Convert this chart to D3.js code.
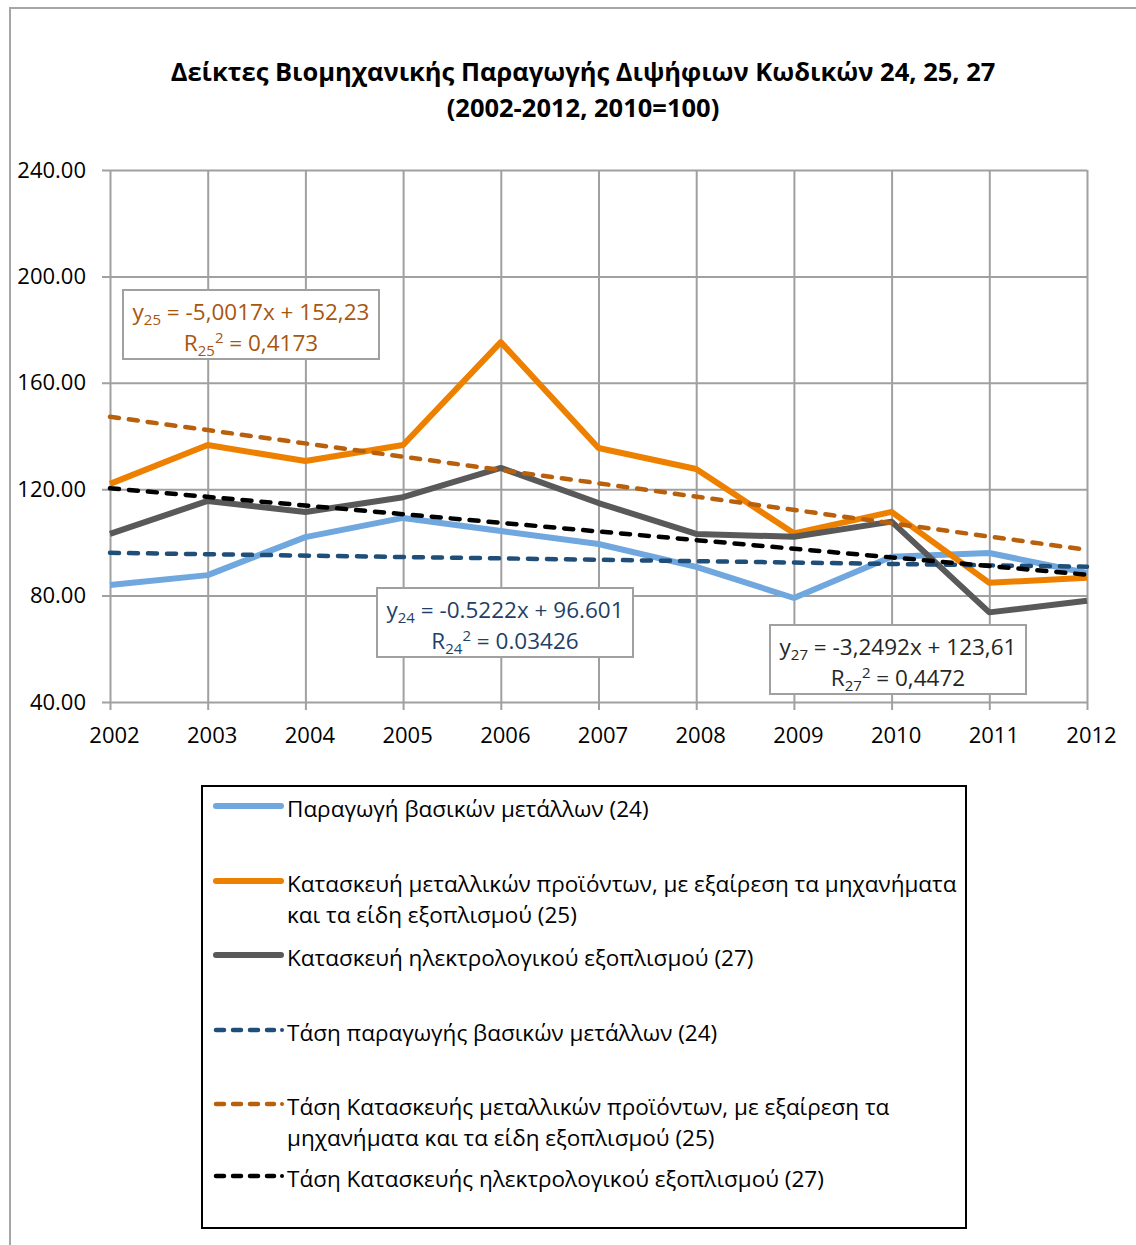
<!DOCTYPE html>
<html>
<head>
<meta charset="utf-8">
<script src="https://cdn.jsdelivr.net/npm/d3@7"></script>
<style>
  body { margin: 0; background: #fff; }
  svg { display: block; font-family: "Open Sans", sans-serif; }
</style>
</head>
<body>
<div id="chart"></div>
<script>
// data
var years = [2002, 2003, 2004, 2005, 2006, 2007, 2008, 2009, 2010, 2011, 2012];
var basicMetals = [84.0, 87.7, 102.0, 109.2, 104.3, 99.4, 90.8, 79.1, 94.6, 96.0, 88.5];
var metalProducts = [122.0, 136.6, 130.6, 136.6, 175.3, 135.5, 127.6, 103.4, 111.5, 84.8, 86.7];
var electrical = [103.2, 115.6, 111.4, 117.0, 128.0, 114.8, 103.2, 102.1, 107.8, 73.7, 78.1];
// trend lines: values at 2002 and 2012
var trendYears = [2002, 2012];
var trend24 = [96.08, 90.86];
var trend25 = [147.23, 97.21];
var trend27 = [120.36, 87.87];
var yTicks = [40, 80, 120, 160, 200, 240];

var legendLabels = [
  ["Παραγωγή βασικών μετάλλων (24)"],
  ["Κατασκευή μεταλλικών προϊόντων, με εξαίρεση τα μηχανήματα", "και τα είδη εξοπλισμού (25)"],
  ["Κατασκευή ηλεκτρολογικού εξοπλισμού (27)"],
  ["Τάση παραγωγής βασικών μετάλλων (24)"],
  ["Τάση Κατασκευής μεταλλικών προϊόντων, με εξαίρεση τα", "μηχανήματα και τα είδη εξοπλισμού (25)"],
  ["Τάση Κατασκευής ηλεκτρολογικού εξοπλισμού (27)"]
];

var W = 1136, H = 1245;
var plotL = 110, plotR = 1087, plotT = 170, plotB = 702;

var svg = d3.select("#chart").append("svg")
  .attr("width", W)
  .attr("height", H);

// outer chart frame
svg.append("path")
  .attr("d", "M10," + H + "V8H" + (W + 5))
  .attr("fill", "none")
  .attr("stroke", "#a6a6a6")
  .attr("stroke-width", 2);

// title
var title = svg.append("text")
  .attr("text-anchor", "middle")
  .style("font-size", "25.5px")
  .style("font-weight", "bold")
  .attr("fill", "#000");
title.append("tspan").attr("x", 583).attr("y", 81)
  .text("Δείκτες Βιομηχανικής Παραγωγής Διψήφιων Κωδικών 24, 25, 27");
title.append("tspan").attr("x", 583).attr("y", 117)
  .text("(2002-2012, 2010=100)");

var x = d3.scaleLinear().domain([2002, 2012]).range([plotL, plotR]);
var y = d3.scaleLinear().domain([40, 240]).range([plotB, plotT]);

// y axis + horizontal grid
var yAxis = svg.append("g")
  .attr("transform", "translate(" + (plotL - 8) + ",0)")
  .call(d3.axisLeft(y).tickValues(yTicks).tickFormat(d3.format(".2f"))
    .tickSize(-(plotR - plotL + 8)).tickPadding(16));

// x axis + vertical grid
var xAxis = svg.append("g")
  .attr("transform", "translate(0," + (plotB + 8) + ")")
  .call(d3.axisBottom(x).tickValues(years).tickFormat(d3.format("d"))
    .tickSize(-(plotB + 8 - plotT)).tickPadding(17));

[yAxis, xAxis].forEach(function(g) {
  g.select(".domain").remove();
  g.selectAll(".tick line").attr("stroke", "#a0a0a0").attr("stroke-width", 2);
  g.selectAll(".tick text").attr("fill", "#000").style("font-size", "22px")
    .style("font-family", "'Open Sans', sans-serif");
});
xAxis.selectAll(".tick text").attr("dx", 4);

var line = d3.line()
  .x(function(d) { return x(d[0]); })
  .y(function(d) { return y(d[1]); });

var series = [
  { values: basicMetals, color: "#6fa7de" },
  { values: metalProducts, color: "#ee8000" },
  { values: electrical, color: "#595959" }
];

series.forEach(function(s) {
  svg.append("path")
    .datum(d3.zip(years, s.values))
    .attr("d", line)
    .attr("fill", "none")
    .attr("stroke", s.color)
    .attr("stroke-width", 6)
    .attr("stroke-linejoin", "round");
});

var trends = [
  { values: trend24, color: "#1f4e79" },
  { values: trend25, color: "#b9600c" },
  { values: trend27, color: "#000" }
];

trends.forEach(function(t) {
  svg.append("path")
    .datum(d3.zip(trendYears, t.values))
    .attr("d", line)
    .attr("fill", "none")
    .attr("stroke", t.color)
    .attr("stroke-width", 4.5)
    .attr("stroke-linecap", "round")
    .attr("stroke-dasharray", "9,10");
});

// equation boxes
var boxes = [
  { x: 123, y: 290, w: 256, h: 69, color: "#a8560f", n: "25", eq: " = -5,0017x + 152,23", r2: " = 0,4173" },
  { x: 377, y: 588, w: 256, h: 69, color: "#1f3f68", n: "24", eq: " = -0.5222x + 96.601", r2: " = 0.03426" },
  { x: 770, y: 625, w: 256, h: 69, color: "#262626", n: "27", eq: " = -3,2492x + 123,61", r2: " = 0,4472" }
];

boxes.forEach(function(b) {
  svg.append("rect")
    .attr("x", b.x).attr("y", b.y)
    .attr("width", b.w).attr("height", b.h)
    .attr("fill", "#fff")
    .attr("stroke", "#a0a0a0")
    .attr("stroke-width", 2);

  var cx = b.x + b.w / 2;
  var t1 = svg.append("text")
    .attr("x", cx).attr("y", b.y + 30)
    .attr("text-anchor", "middle")
    .attr("fill", b.color)
    .style("font-size", "22.5px");
  t1.append("tspan").text("y");
  t1.append("tspan").attr("dy", 5).style("font-size", "15px").text(b.n);
  t1.append("tspan").attr("dy", -5).text(b.eq);

  var t2 = svg.append("text")
    .attr("x", cx).attr("y", b.y + 61)
    .attr("text-anchor", "middle")
    .attr("fill", b.color)
    .style("font-size", "22.5px");
  t2.append("tspan").text("R");
  t2.append("tspan").attr("dy", 5).style("font-size", "15px").text(b.n);
  t2.append("tspan").attr("dy", -13).style("font-size", "15px").text("2");
  t2.append("tspan").attr("dy", 8).text(b.r2);
});

// legend
svg.append("rect")
  .attr("x", 202).attr("y", 786)
  .attr("width", 764).attr("height", 442)
  .attr("fill", "#fff")
  .attr("stroke", "#000")
  .attr("stroke-width", 2);

var legendY = [806, 881, 955, 1030, 1104, 1176];
var legendStyle = series.concat(trends);

legendLabels.forEach(function(lines, i) {
  var ly = legendY[i];
  var dashed = i >= 3;
  svg.append("line")
    .attr("x1", 216).attr("x2", dashed ? 274 : 281)
    .attr("y1", ly).attr("y2", ly)
    .attr("stroke", legendStyle[i].color)
    .attr("stroke-width", dashed ? 4.5 : 6)
    .attr("stroke-linecap", "round")
    .attr("stroke-dasharray", dashed ? "8,9" : null);
  if (dashed) {
    svg.append("circle")
      .attr("cx", 282).attr("cy", ly).attr("r", 2)
      .attr("fill", legendStyle[i].color);
  }
  var txt = svg.append("text")
    .attr("fill", "#000")
    .style("font-size", "22.5px");
  lines.forEach(function(l, j) {
    txt.append("tspan")
      .attr("x", 287)
      .attr("y", ly + 11 + j * 31)
      .text(l);
  });
});
</script>
</body>
</html>
